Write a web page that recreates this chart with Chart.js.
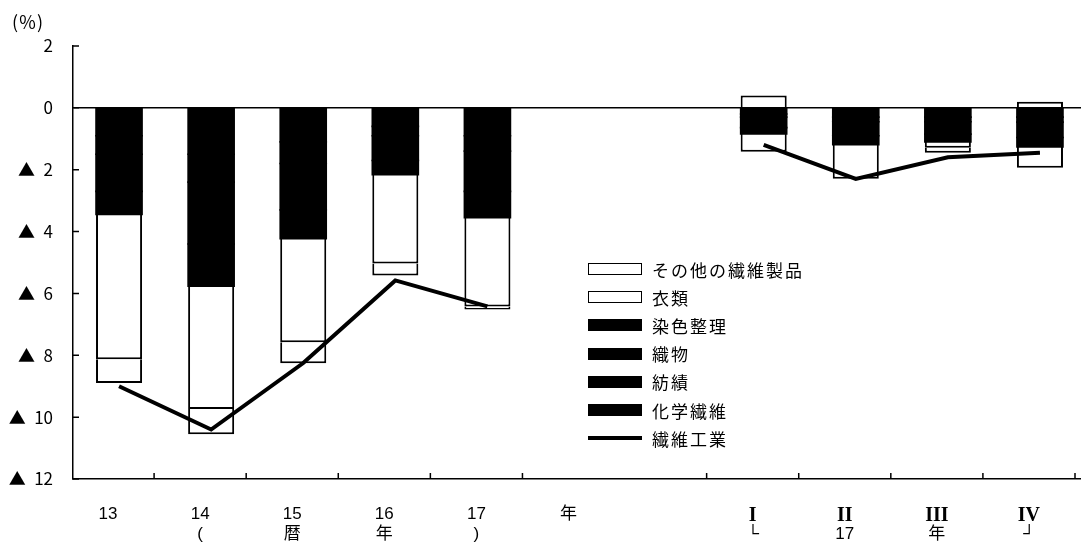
<!DOCTYPE html>
<html lang="ja">
<head>
<meta charset="utf-8">
<title>繊維工業 生産指数 前年比寄与度</title>
<script src="https://cdn.jsdelivr.net/npm/chart.js@4.4.1/dist/chart.umd.min.js"></script>
<style>
  html, body { margin: 0; padding: 0; background: #fff; overflow: hidden; }
  #wrap { position: relative; width: 1081px; height: 550px; overflow: hidden; }
  #unit { position: absolute; left: 12px; top: 8px; font: 18px 'Noto Sans CJK JP', sans-serif; letter-spacing: 0.5px; color: #000; }
  #legend { position: absolute; left: 588px; top: 255px; font-family: 'Noto Sans CJK JP', sans-serif; font-size: 17px; letter-spacing: 2px; color: #000; }
  .item { display: flex; align-items: center; height: 28.2px; }
  .swatch { width: 54px; height: 12px; box-sizing: border-box; margin-right: 10px; flex: none; }
</style>
</head>
<body>
<div id="wrap">
  <canvas id="chart" width="1086" height="550"></canvas>
  <div id="unit">(％)</div>
  <div id="legend"></div>
</div>
<script>
// Categories: calendar years 13-17, a gap, then the quarters of 17
const topLabels = ['13', '14', '15', '16', '17', '年', '', 'I', 'II', 'III', 'IV'];
const subLabels = ['', '(', '暦', '年', ')', '', '', '└', '17', '年', '┘'];

// Contributions (%)
const chemical      = [-0.90, -1.50, -1.10, -0.60, -0.90, null, null, -0.20, -0.30, -0.30, -0.30];
const spinning      = [-0.60, -0.90, -0.70, -0.30, -0.50, null, null, -0.10, -0.15, -0.15, -0.16];
const weaving       = [-1.20, -2.00, -1.50, -0.80, -1.30, null, null, -0.34, -0.45, -0.40, -0.50];
const dyeing        = [-0.75, -1.37, -0.93, -0.46, -0.85, null, null, -0.20, -0.29, -0.25, -0.30];
const apparel       = [-4.68, -3.97, -3.35, -2.87, -2.87, null, null, -0.58, -1.10, -0.19, -0.68];
const otherProducts = [-0.77, -0.81, -0.68, -0.39, -0.10, null, null,  0.40,  0.00, -0.16,  0.20];
const textileTotal  = [-9.00, -10.40, -8.25, -5.58, -6.42, null, null, -1.20, -2.30, -1.60, -1.45];

const yTicks = [2, 0, -2, -4, -6, -8, -10, -12];

const FONT = "'Liberation Sans', 'Noto Sans CJK JP', 'DejaVu Sans', sans-serif";
const SERIF = "'Liberation Serif', 'Noto Sans CJK JP', serif";
const LABEL_SHIFT = -11; // category labels sit a bit left of the bars in the original

// short tick marks pointing into the plot
const inwardTicks = {
  id: 'inwardTicks',
  afterDraw(chart) {
    const { ctx, chartArea, scales: { x, y } } = chart;
    ctx.save();
    ctx.strokeStyle = '#000';
    ctx.lineWidth = 1.5;
    ctx.beginPath();
    y.ticks.forEach(t => {
      const py = y.getPixelForValue(t.value);
      ctx.moveTo(chartArea.left, py);
      ctx.lineTo(chartArea.left + 6, py);
    });
    const n = x.ticks.length;
    for (let i = 0; i < n; i++) {
      if (i === 5) continue; // no mark between 年 and the gap
      const px = i < n - 1
        ? (x.getPixelForValue(i) + x.getPixelForValue(i + 1)) / 2
        : chartArea.right;
      ctx.moveTo(px + LABEL_SHIFT, chartArea.bottom);
      ctx.lineTo(px + LABEL_SHIFT, chartArea.bottom - 6);
    }
    ctx.stroke();
    ctx.restore();
  }
};

function barSet(label, data, filled) {
  return {
    label,
    data,
    backgroundColor: filled ? '#000' : '#fff',
    borderColor: '#000',
    borderWidth: filled ? 0 : 2,
    inflateAmount: filled ? 0.8 : 'auto',
    barPercentage: 0.5,
    categoryPercentage: 1,
    order: 1
  };
}

const chart = new Chart(document.getElementById('chart'), {
  type: 'bar',
  data: {
    labels: topLabels,
    datasets: [
      barSet('化学繊維', chemical, true),
      barSet('紡績', spinning, true),
      barSet('織物', weaving, true),
      barSet('染色整理', dyeing, true),
      barSet('衣類', apparel, false),
      barSet('その他の繊維製品', otherProducts, false),
      {
        type: 'line',
        label: '繊維工業',
        data: textileTotal,
        borderColor: '#000',
        backgroundColor: '#000',
        borderWidth: 4,
        pointRadius: 0,
        tension: 0,
        spanGaps: false,
        fill: false,
        stack: 'line',
        order: 0
      }
    ]
  },
  options: {
    responsive: false,
    animation: false,
    layout: { padding: { top: 46, right: 0, bottom: 0, left: 0 } },
    plugins: { legend: { display: false }, tooltip: { enabled: false } },
    scales: {
      x: {
        stacked: true,
        offset: true,
        weight: 0,
        grid: { color: 'rgba(0,0,0,0)', drawTicks: false, offset: true },
        border: { display: true, color: '#000', width: 1.5 },
        ticks: {
          color: '#000',
          font: c => (c.index >= 7
            ? { family: SERIF, size: 20, weight: 'bold' }
            : { family: FONT, size: 17 }),
          padding: 25,
          labelOffset: LABEL_SHIFT,
          maxRotation: 0,
          autoSkip: false
        },
        afterFit: s => { s.height = 45; }
      },
      x2: {
        type: 'category',
        position: 'bottom',
        labels: subLabels,
        offset: true,
        weight: 1,
        grid: { display: false, drawTicks: false },
        border: { display: false },
        ticks: {
          color: '#000',
          font: { family: FONT, size: 17 },
          padding: 0,
          labelOffset: LABEL_SHIFT,
          maxRotation: 0,
          autoSkip: false
        },
        afterFit: s => { s.height = 26; }
      },
      y: {
        stacked: true,
        min: -12,
        max: 2,
        afterBuildTicks: s => { s.ticks = yTicks.map(v => ({ value: v })); },
        grid: {
          color: c => (c.tick && c.tick.value === 0 ? '#000' : 'rgba(0,0,0,0)'),
          lineWidth: 1.5,
          drawTicks: false
        },
        border: { display: true, color: '#000', width: 1.5 },
        ticks: {
          color: '#000',
          font: { family: "'Noto Sans CJK JP', sans-serif", size: 17 },
          padding: 20,
          callback: v => (v < 0 ? '▲\u2002' + (-v) : String(v))
        },
        afterFit: s => { s.width = 73; }
      }
    }
  },
  plugins: [inwardTicks]
});

// Legend: top of stack first, line last
const legend = document.getElementById('legend');
const ds = chart.data.datasets;
[5, 4, 3, 2, 1, 0, 6].forEach(i => {
  const d = ds[i];
  const row = document.createElement('div');
  row.className = 'item';
  const sw = document.createElement('span');
  sw.className = 'swatch';
  if (d.type === 'line') {
    sw.style.height = '3.5px';
    sw.style.background = '#000';
  } else if (d.backgroundColor === '#fff') {
    sw.style.background = '#fff';
    sw.style.border = '1.5px solid #000';
  } else {
    sw.style.background = '#000';
  }
  const txt = document.createElement('span');
  txt.textContent = d.label;
  row.appendChild(sw);
  row.appendChild(txt);
  legend.appendChild(row);
});
</script>
</body>
</html>
